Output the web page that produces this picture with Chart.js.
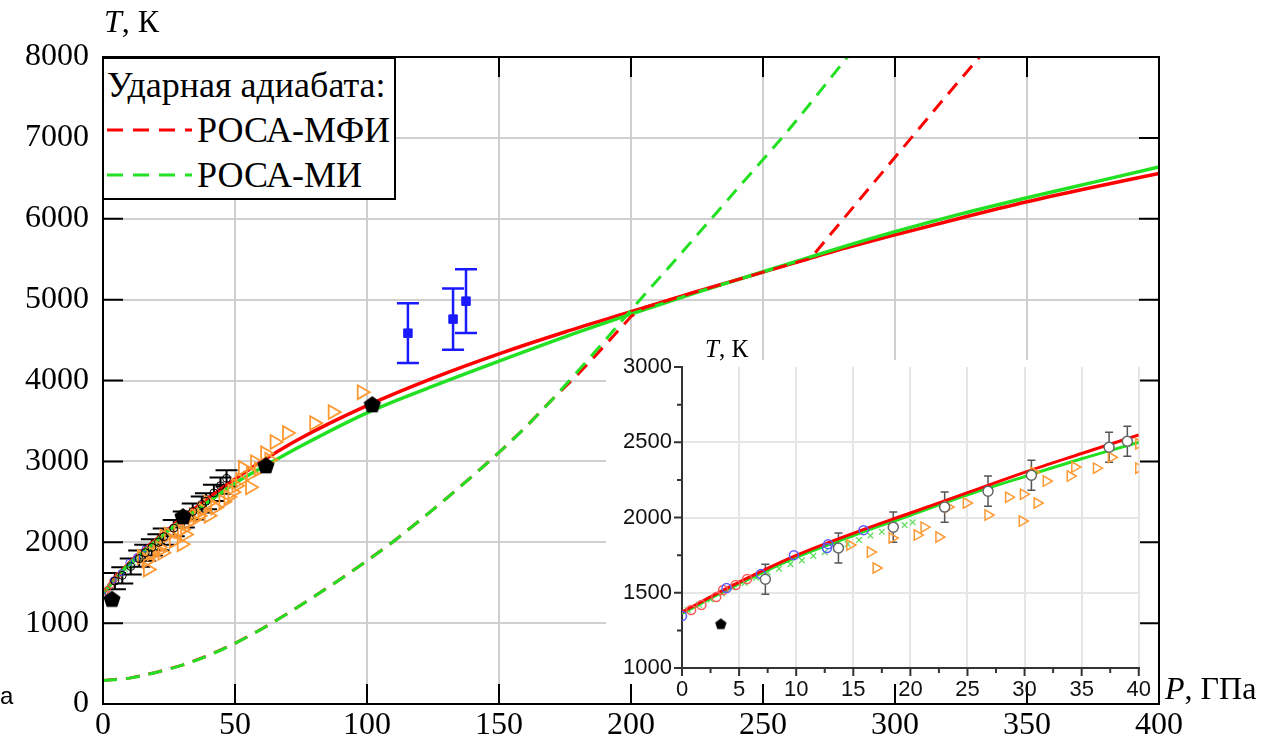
<!DOCTYPE html>
<html>
<head>
<meta charset="utf-8">
<script src="https://cdn.jsdelivr.net/npm/chart.js@4.4.0/dist/chart.umd.min.js"></script>
<style>
  body { margin: 0; background: #fff; }
  #wrap { position: relative; width: 1268px; height: 745px; overflow: hidden; }
  #main { position: absolute; left: 0; top: 0; }
  #inset { position: absolute; left: 600px; top: 330px; }
  .lbl { position: absolute; font-family: 'Liberation Serif', Tinos, 'Times New Roman', 'DejaVu Serif', serif; color: #000; white-space: nowrap; }
  #legend { position: absolute; left: 102px; top: 57px; width: 294px; height: 143px; box-sizing: border-box;
            border: 2px solid #000; background: #fff; }
  #legend .lbl { font-size: 36px; line-height: 36px; }
</style>
</head>
<body>
<div id="wrap">
  <canvas id="main" width="1268" height="745"></canvas>
  <canvas id="inset" width="560" height="380"></canvas>
  <div class="lbl" style="left:104px;top:5px;font-size:32px;line-height:32px"><i>T</i>, К</div>
  <div class="lbl" style="left:1165px;top:672px;font-size:32px;line-height:32px"><i>P</i>, ГПа</div>
  <div class="lbl" style="left:0px;top:684px;font-size:24px;line-height:24px;font-family:'Liberation Sans',Arimo,sans-serif">a</div>
  <div class="lbl" style="left:705px;top:336px;font-size:25px;line-height:25px"><i>T</i>, К</div>
  <div id="legend">
    <div class="lbl" style="left:3px;top:8px">Ударная адиабата:</div>
    <svg style="position:absolute;left:0;top:0" width="290" height="139">
      <line x1="3" y1="71" x2="88" y2="71" stroke="#ff0000" stroke-width="3" stroke-dasharray="16 10"/>
      <line x1="3" y1="116" x2="88" y2="116" stroke="#22e022" stroke-width="3" stroke-dasharray="16 10"/>
    </svg>
    <div class="lbl" style="left:93px;top:53px">РОСА-МФИ</div>
    <div class="lbl" style="left:93px;top:98px">РОСА-МИ</div>
  </div>
</div>
<script>
// solid curves (P, GPa -> T, K)
const solidP = [0, 5, 10, 15, 20, 25, 30, 35, 40, 50, 62, 75, 100, 125, 150, 175, 200, 225, 250, 275, 300, 325, 350, 375, 400];
const redSolid = [1372, 1570, 1748, 1895, 2030, 2165, 2300, 2425, 2548, 2780, 3040, 3290, 3690, 4030, 4330, 4600, 4850, 5100, 5340, 5580, 5800, 6010, 6210, 6390, 6560];
const greenSolid = [1362, 1560, 1735, 1880, 2015, 2150, 2272, 2390, 2500, 2730, 2955, 3190, 3600, 3930, 4240, 4540, 4820, 5090, 5345, 5600, 5840, 6060, 6260, 6450, 6640];

// shock adiabats (dashed)
const greenDashP = [0, 10, 20, 30, 40, 50, 60, 70, 80, 90, 100, 110, 120, 130, 140, 150, 160, 170, 180, 190, 200, 220, 240, 260, 282];
const greenDashT = [290, 320, 390, 480, 600, 750, 925, 1120, 1330, 1545, 1770, 2010, 2270, 2540, 2820, 3110, 3420, 3760, 4120, 4490, 4870, 5610, 6360, 7110, 8000];
const redDashP = [0, 10, 20, 30, 40, 50, 60, 70, 80, 90, 100, 110, 120, 130, 140, 150, 160, 170, 180, 190, 200, 205, 215, 225, 235, 250, 260, 268, 280, 290, 300, 310, 320, 332];
const redDashT = [290, 320, 390, 480, 600, 750, 925, 1120, 1330, 1545, 1770, 2010, 2270, 2540, 2820, 3110, 3420, 3760, 4080, 4430, 4790, 4900, 5000, 5100, 5195, 5340, 5436, 5510, 5980, 6370, 6760, 7150, 7540, 8000];

// experimental points
const pentP = [3.4, 30.3, 61.7, 102];
const pentT = [1290, 2311, 2942, 3696];

const sqP = [115.5, 132.6, 137.5];
const sqT = [4585, 4759, 4981];
const sqErr = [370, 380, 395];

const circP = [4.5, 7.3, 10.5, 13.7, 16.0, 18.5, 21.0, 23.0, 26.8, 30.6, 34.0, 37.4, 39.0, 42.0, 44.5, 46.8];
const circT = [1520, 1590, 1700, 1797, 1870, 1936, 2000, 2069, 2175, 2281, 2380, 2467, 2507, 2610, 2700, 2790];
const circErr = [100, 100, 100, 100, 100, 100, 100, 100, 100, 100, 100, 100, 100, 100, 100, 100];

const triP = [14.7, 16.5, 17.0, 18.4, 20.6, 21.2, 22.5, 23.3, 24.9, 26.8, 28.6, 29.8, 29.9, 30.8, 31.1, 31.9, 34.0, 34.4, 36.3, 37.6, 40.0, 40.0,
              42.5, 45.6, 47.5, 49.0, 50.5, 52.0, 53.0, 55.7, 56.0, 57.6, 59.0, 61.4, 63.0, 65.0, 69.7, 80.0, 87.0, 98.0];
const triT = [1817, 1770, 1664, 1863, 1883, 1936, 1870, 2069, 2096, 2016, 2135, 1976, 2155, 2300, 2096, 2242, 2275, 2335, 2328, 2400, 2328, 2490,
              2430, 2500, 2560, 2620, 2700, 2770, 2917, 2680, 2850, 2990, 2900, 3100, 3020, 3240, 3350, 3473, 3609, 3856];

const blueP = [0, 3.9, 6.9, 9.8, 12.7, 12.8, 15.9];
const blueT = [1345, 1531, 1624, 1750, 1797, 1823, 1916];
const redcP = [0.8, 1.7, 3.0, 3.6, 4.7, 5.7];
const redcT = [1385, 1418, 1471, 1518, 1551, 1591];
const crossP = [0.5, 1.5, 2.5, 3.5, 4.5, 5.5, 6.5, 7.5, 8.5, 9.5, 10.5, 11.5, 12.5, 13.5, 14.5, 15.5, 16.5, 17.5, 18.5, 19.5, 20.2];
const crossT = [1385, 1420, 1455, 1495, 1535, 1565, 1600, 1635, 1660, 1690, 1715, 1745, 1770, 1795, 1825, 1850, 1880, 1905, 1930, 1950, 1968];

// points of the error-bar set that the inset shows
const insetCircIdx = [1, 3, 5, 7, 8, 9, 11, 12];

const RED = '#ff0000';
const GREEN = '#22e022';
const ORANGE = '#ff9933';
const SERIF = "'Liberation Serif', Tinos, 'Times New Roman', 'DejaVu Serif', serif";
const NARROW = "'Liberation Sans Narrow', 'Arial Narrow', 'Liberation Sans', Arimo, sans-serif";

const zip = (xs, ys) => xs.map((x, i) => ({ x, y: ys[i] }));
const plain = (v) => String(v);
const pick = (arr, idx) => idx.map((i) => arr[i]);

function pentagon(r) {
  const c = document.createElement('canvas');
  c.width = c.height = Math.ceil(r * 2 + 2);
  const g = c.getContext('2d');
  g.fillStyle = '#000';
  g.beginPath();
  for (let i = 0; i < 5; i++) {
    const a = -Math.PI / 2 + i * 2 * Math.PI / 5;
    g.lineTo(c.width / 2 + r * Math.cos(a), c.height / 2 + r * Math.sin(a));
  }
  g.closePath();
  g.fill();
  return c;
}

function drawErrBars(chart) {
  const { ctx, chartArea: a, scales: { x, y } } = chart;
  ctx.save();
  ctx.beginPath();
  ctx.rect(a.left, a.top, a.right - a.left, a.bottom - a.top);
  ctx.clip();
  chart.data.datasets.forEach((ds) => {
    if (!ds.errY) return;
    ctx.strokeStyle = ds.errColor;
    ctx.lineWidth = ds.errWidth;
    ds.data.forEach((p, i) => {
      const px = x.getPixelForValue(p.x);
      const y1 = y.getPixelForValue(p.y - ds.errY[i]);
      const y2 = y.getPixelForValue(p.y + ds.errY[i]);
      ctx.beginPath();
      ctx.moveTo(px, y1); ctx.lineTo(px, y2);
      ctx.moveTo(px - ds.cap, y1); ctx.lineTo(px + ds.cap, y1);
      ctx.moveTo(px - ds.cap, y2); ctx.lineTo(px + ds.cap, y2);
      ctx.stroke();
    });
  });
  ctx.restore();
}

const line = (xs, ys, color, dash, width, smooth = true) => ({
  data: zip(xs, ys), showLine: true, borderColor: color, borderWidth: width, borderDash: dash,
  pointRadius: 0, cubicInterpolationMode: smooth ? 'monotone' : 'default', tension: 0, fill: false,
});
const pts = (xs, ys, opts) => Object.assign({ data: zip(xs, ys), showLine: false }, opts);

// main chart
const mainDeco = {
  id: 'mainDeco',
  beforeDatasetsDraw(chart) {
    const ctx = chart.ctx;
    ctx.save();
    ctx.fillStyle = '#fff';
    ctx.fillRect(606, 360, 551, 342);
    ctx.restore();
    drawErrBars(chart);
  },
  afterDraw(chart) {
    const { ctx, chartArea: a, scales: { x, y } } = chart;
    ctx.save();
    ctx.strokeStyle = '#000';
    ctx.lineWidth = 2;
    ctx.strokeRect(a.left, a.top, a.right - a.left, a.bottom - a.top);
    ctx.beginPath();
    x.ticks.forEach((t) => {
      const px = x.getPixelForValue(t.value);
      ctx.moveTo(px, a.bottom); ctx.lineTo(px, a.bottom - 20);
      ctx.moveTo(px, a.top); ctx.lineTo(px, a.top + 20);
    });
    y.ticks.forEach((t) => {
      const py = y.getPixelForValue(t.value);
      ctx.moveTo(a.left, py); ctx.lineTo(a.left + 20, py);
      ctx.moveTo(a.right, py); ctx.lineTo(a.right - 20, py);
    });
    ctx.stroke();
    ctx.restore();
  },
};

new Chart(document.getElementById('main'), {
  type: 'scatter',
  data: {
    datasets: [
      pts(pentP, pentT, { pointStyle: pentagon(9), pointRadius: 9 }),
      pts(sqP, sqT, { pointStyle: 'rect', pointRadius: 6, pointBackgroundColor: '#1a1aff', pointBorderColor: '#1a1aff',
        errY: sqErr, errColor: '#1a1aff', errWidth: 2.5, cap: 11 }),
      pts(circP, circT, { pointStyle: 'circle', pointRadius: 4, pointBackgroundColor: 'rgba(0,0,0,0)', pointBorderColor: '#000', pointBorderWidth: 1,
        errY: circErr, errColor: '#000', errWidth: 2, cap: 11 }),
      pts(triP, triT, { pointStyle: 'triangle', pointRotation: 90, pointRadius: 8, pointBackgroundColor: 'rgba(0,0,0,0)', pointBorderColor: ORANGE, pointBorderWidth: 1.8 }),
      pts(blueP, blueT, { pointStyle: 'circle', pointRadius: 3, pointBackgroundColor: 'rgba(0,0,0,0)', pointBorderColor: '#4040ff', pointBorderWidth: 1 }),
      pts(redcP, redcT, { pointStyle: 'circle', pointRadius: 3, pointBackgroundColor: 'rgba(0,0,0,0)', pointBorderColor: '#ff4040', pointBorderWidth: 1 }),
      pts(crossP, crossT, { pointStyle: 'crossRot', pointRadius: 3, pointBorderColor: '#30d030', pointBorderWidth: 1 }),
      line(greenDashP, greenDashT, GREEN, [14, 9], 3),
      line(redDashP, redDashT, RED, [14, 9], 3, false),
      line(solidP, greenSolid, GREEN, [], 3.5),
      line(solidP, redSolid, RED, [], 3.5),
    ],
  },
  options: {
    responsive: false,
    animation: false,
    events: [],
    layout: { padding: { left: 0, top: 57, right: 109, bottom: 0 } },
    plugins: { legend: { display: false }, tooltip: { enabled: false } },
    scales: {
      x: {
        type: 'linear', min: 0, max: 400,
        afterFit: (s) => { s.height = 41; },
        ticks: { stepSize: 50, padding: 2, color: '#000', font: { family: SERIF, size: 32 }, callback: plain },
        grid: { color: '#cfcfcf', lineWidth: 2, drawTicks: false },
        border: { display: false },
      },
      y: {
        type: 'linear', min: 0, max: 8000,
        afterFit: (s) => { s.width = 103; },
        ticks: { stepSize: 1000, padding: 14, color: '#000', font: { family: SERIF, size: 32 }, callback: plain },
        grid: { color: '#cfcfcf', lineWidth: 2, drawTicks: false },
        border: { display: false },
      },
    },
  },
  plugins: [mainDeco],
});

// inset chart
const insetDeco = {
  id: 'insetDeco',
  beforeDatasetsDraw(chart) { drawErrBars(chart); },
  afterDraw(chart) {
    const { ctx, chartArea: a, scales: { x, y } } = chart;
    ctx.save();
    ctx.strokeStyle = '#333';
    ctx.lineWidth = 2;
    ctx.beginPath();
    for (let v = x.min; v <= x.max + 1e-9; v += 2.5) {
      const px = x.getPixelForValue(v);
      const len = v % 5 === 0 ? 8 : 5;
      ctx.moveTo(px, a.bottom); ctx.lineTo(px, a.bottom + len);
    }
    for (let v = y.min; v <= y.max + 1e-9; v += 250) {
      const py = y.getPixelForValue(v);
      const len = v % 500 === 0 ? 8 : 5;
      ctx.moveTo(a.left, py); ctx.lineTo(a.left - len, py);
    }
    ctx.stroke();
    ctx.restore();
  },
};

new Chart(document.getElementById('inset'), {
  type: 'scatter',
  data: {
    datasets: [
      pts([pentP[0]], [pentT[0]], { pointStyle: pentagon(6), pointRadius: 6 }),
      pts(pick(circP, insetCircIdx), pick(circT, insetCircIdx), { pointStyle: 'circle', pointRadius: 5, pointBackgroundColor: '#fff', pointBorderColor: '#666', pointBorderWidth: 1.5,
        errY: pick(circErr, insetCircIdx), errColor: '#555', errWidth: 1.5, cap: 4 }),
      pts(blueP, blueT, { pointStyle: 'circle', pointRadius: 4.5, pointBackgroundColor: 'rgba(0,0,0,0)', pointBorderColor: '#5a5aff', pointBorderWidth: 1.5 }),
      pts(redcP, redcT, { pointStyle: 'circle', pointRadius: 4.5, pointBackgroundColor: 'rgba(0,0,0,0)', pointBorderColor: '#ff5a5a', pointBorderWidth: 1.5 }),
      pts(triP, triT, { pointStyle: 'triangle', pointRotation: 90, pointRadius: 6, pointBackgroundColor: 'rgba(0,0,0,0)', pointBorderColor: ORANGE, pointBorderWidth: 1.5 }),
      line(solidP, redSolid, RED, [], 3),
      line(solidP, greenSolid, GREEN, [], 3),
      pts(crossP, crossT, { pointStyle: 'crossRot', pointRadius: 4, pointBorderColor: '#60dd60', pointBorderWidth: 1.3 }),
    ],
  },
  options: {
    responsive: false,
    animation: false,
    events: [],
    layout: { padding: { left: 0, top: 37, right: 13, bottom: 0 } },
    plugins: { legend: { display: false }, tooltip: { enabled: false } },
    scales: {
      x: {
        type: 'linear', min: 0, max: 40,
        afterFit: (s) => { s.height = 42; },
        ticks: { stepSize: 5, padding: 9, color: '#111', font: { family: NARROW, size: 22 }, callback: plain },
        grid: { color: '#e6e6e6', lineWidth: 2, drawTicks: false },
        border: { display: true, color: '#333', width: 2 },
      },
      y: {
        type: 'linear', min: 1000, max: 3000,
        afterFit: (s) => { s.width = 82; },
        ticks: { stepSize: 500, padding: 10, color: '#111', font: { family: NARROW, size: 22 }, callback: plain },
        grid: { color: (c) => (c.tick && c.tick.value === 3000 ? 'rgba(0,0,0,0)' : '#e6e6e6'), lineWidth: 2, drawTicks: false },
        border: { display: true, color: '#333', width: 2 },
      },
    },
  },
  plugins: [insetDeco],
});
</script>
</body>
</html>
